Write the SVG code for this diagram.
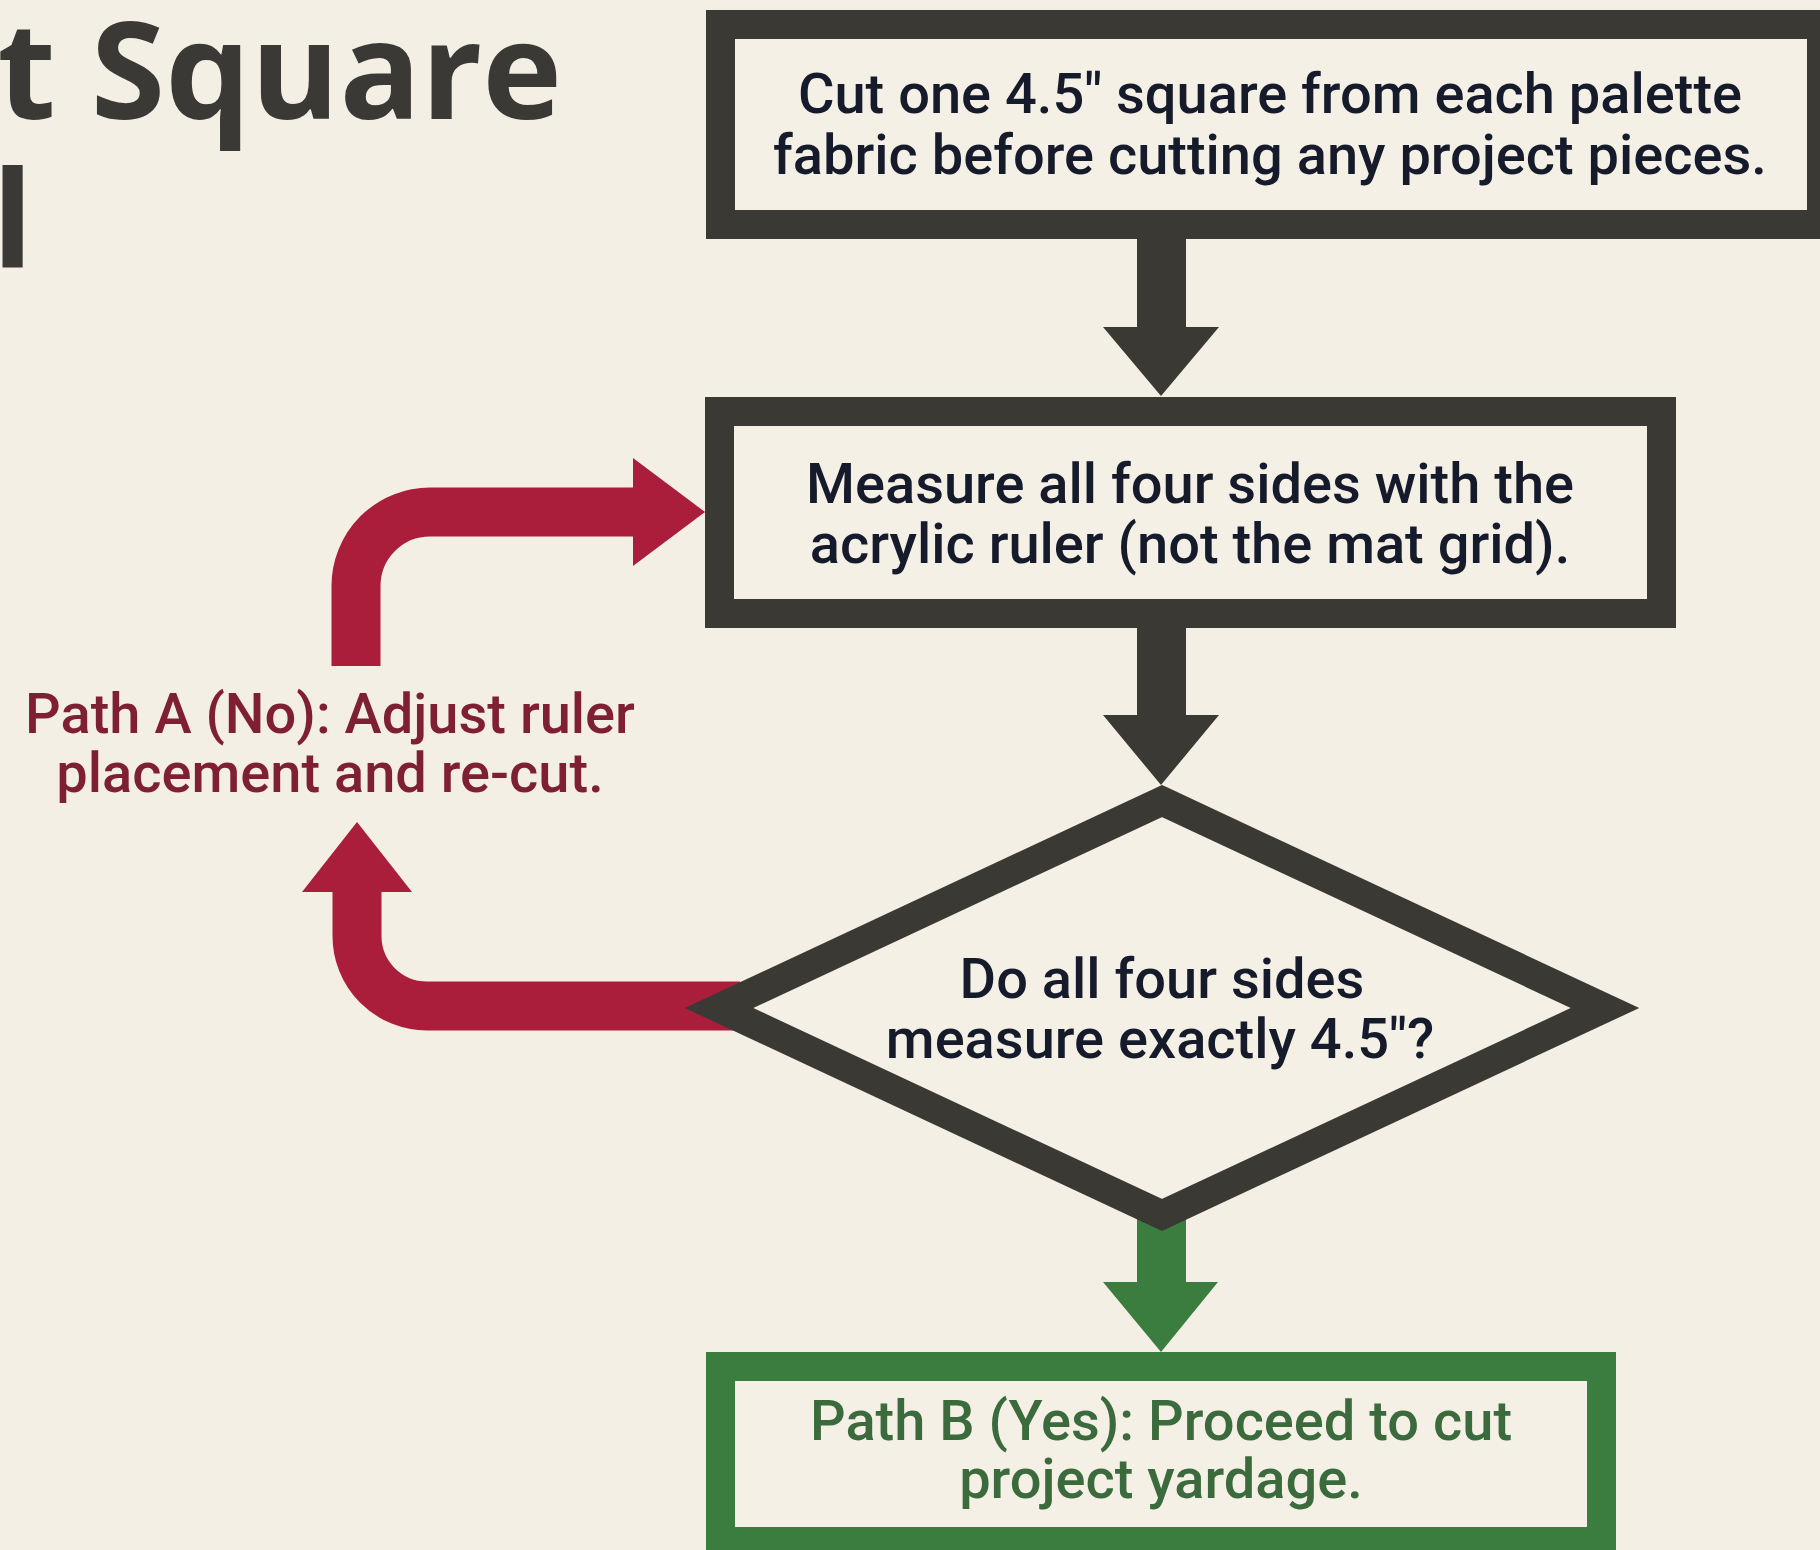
<svg xmlns="http://www.w3.org/2000/svg" width="1820" height="1550" viewBox="0 0 1820 1550">
  <style>
    .title { font-family: "Open Sans", "Liberation Sans", sans-serif; font-weight: 700; font-size: 135px; fill: #3a3935; }
    .box { fill: #f4f0e6; stroke: #3a3934; stroke-width: 29; }
    .boxg { fill: #f4f0e6; stroke: #3a7d3f; stroke-width: 29; }
    .lbl { font-family: Roboto, "Liberation Sans", sans-serif; font-weight: 500; font-size: 56px; fill: #161b2b; text-anchor: middle; }
    .lblr { font-family: Roboto, "Liberation Sans", sans-serif; font-weight: 500; font-size: 56px; fill: #7f1f33; text-anchor: middle; }
    .lblg { font-family: Roboto, "Liberation Sans", sans-serif; font-weight: 500; font-size: 56px; fill: #3b6b3c; text-anchor: middle; }
    .dark { fill: #3a3934; }
    .red { fill: #ab1e3b; }
    .redline { fill: none; stroke: #ab1e3b; stroke-width: 49; stroke-linecap: butt; }
    .green { fill: #3a7d3f; }
  </style>
  <rect x="0" y="0" width="1820" height="1550" fill="#f3efe4"/>

  <g id="title">
    <text class="title" x="562" y="119" text-anchor="end">t Square</text>
    <text class="title" x="-8" y="267">l</text>
  </g>

  <g id="connectors">
    <!-- step 1 to step 2 -->
    <polygon class="dark" points="1137,230 1186,230 1186,327 1219,327 1161,396 1103,327 1137,327"/>
    <!-- step 2 to decision -->
    <polygon class="dark" points="1137,620 1186,620 1186,715 1219,715 1161,785 1103,715 1137,715"/>
    <!-- decision yes -->
    <polygon class="green" points="1137,1205 1186,1205 1186,1282 1218,1282 1161,1352 1103,1282 1137,1282"/>
    <!-- decision no: to label -->
    <path class="redline" d="M740,1006 L427,1006 A70,70 0 0 1 357,936 L357,890"/>
    <polygon class="red" points="302,892 357,822 412,892"/>
    <!-- label back to measure -->
    <path class="redline" d="M356,666 L356,586 A74,74 0 0 1 430,512 L636,512"/>
    <polygon class="red" points="633,458 705,512 633,566"/>
  </g>

  <g id="node-cut">
    <rect class="box" x="720.5" y="24.5" width="1101" height="200"/>
    <text class="lbl" x="1270" y="113">Cut one 4.5″ square from each palette</text>
    <text class="lbl" x="1270" y="174">fabric before cutting any project pieces.</text>
  </g>

  <g id="node-measure">
    <rect class="box" x="719.5" y="411.5" width="942" height="202"/>
    <text class="lbl" x="1190" y="503">Measure all four sides with the</text>
    <text class="lbl" x="1190" y="563">acrylic ruler (not the mat grid).</text>
  </g>

  <g id="node-decision">
    <polygon class="box" points="1162,801 1605,1008 1162,1215 719,1008"/>
    <text class="lbl" x="1162" y="998">Do all four sides</text>
    <text class="lbl" x="1160" y="1058">measure exactly 4.5″?</text>
  </g>

  <g id="label-path-a">
    <text class="lblr" x="330" y="733">Path A (No): Adjust ruler</text>
    <text class="lblr" x="330" y="792">placement and re-cut.</text>
  </g>

  <g id="node-path-b">
    <rect class="boxg" x="720.5" y="1366.5" width="881" height="175"/>
    <text class="lblg" x="1161" y="1440">Path B (Yes): Proceed to cut</text>
    <text class="lblg" x="1161" y="1498">project yardage.</text>
  </g>
</svg>
